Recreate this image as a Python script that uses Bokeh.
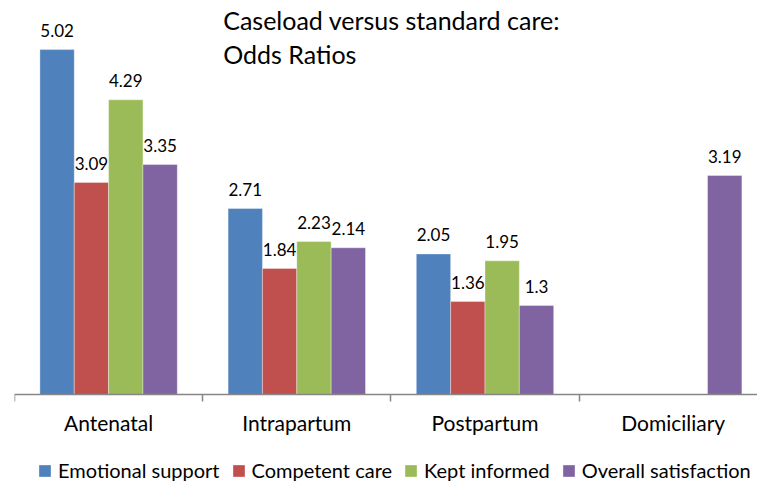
import numpy as np
from bokeh.plotting import figure
from bokeh.models import (ColumnDataSource, Range1d, LinearAxis, FixedTicker,
                          Legend, LegendItem, Label)
from bokeh.transform import dodge
from bokeh.core.properties import value
from bokeh.embed import file_html
from bokeh.resources import INLINE

# ---- data ----
categories = ["Antenatal", "Intrapartum", "Postpartum", "Domiciliary"]
series_names = ["Emotional support", "Competent care", "Kept informed", "Overall satisfaction"]
emotional_support = [5.02, 2.71, 2.05, np.nan]
competent_care = [3.09, 1.84, 1.36, np.nan]
kept_informed = [4.29, 2.23, 1.95, np.nan]
overall_satisfaction = [3.35, 2.14, 1.30, 3.19]
title_lines = ["Caseload versus standard care:", "Odds Ratios"]

series_values = [emotional_support, competent_care, kept_informed, overall_satisfaction]
colors = ["#4F81BD", "#C0504D", "#9BBB59", "#8064A2"]
FONT = "Lato"

centers = [i + 0.5 for i in range(len(categories))]
boundaries = [float(i) for i in range(len(categories) + 1)]
bar_w = 0.1825
offsets = [-1.5 * bar_w, -0.5 * bar_w, 0.5 * bar_w, 1.5 * bar_w]

p = figure(width=757, height=482,
           x_range=Range1d(0, 3.948), y_range=Range1d(-1.272, 5.734),
           x_axis_location=None, y_axis_location=None,
           toolbar_location=None, output_backend="svg",
           min_border_left=14, min_border_right=0,
           min_border_top=0, min_border_bottom=0,
           outline_line_color=None, background_fill_color="white",
           border_fill_color="white")
p.grid.visible = False

items = []
for name, vals, col, off in zip(series_names, series_values, colors, offsets):
    arr = np.array(vals, dtype=float)
    src = ColumnDataSource(dict(
        cx=centers, top=arr,
        label=["" if np.isnan(v) else f"{v:g}" for v in arr]))
    r = p.vbar(x=dodge("cx", off), top="top", bottom=0, width=bar_w, source=src,
               fill_color=col, line_color="white", line_alpha=0.35, line_width=1)
    p.text(x=dodge("cx", off), y="top", text="label", source=src,
           text_align="center", text_baseline="alphabetic", y_offset=-19,
           text_font=value(FONT), text_font_size="17px", text_color="#000000")
    items.append(LegendItem(label=name, renderers=[r]))

ax = LinearAxis(
    fixed_location=0,
    ticker=FixedTicker(ticks=centers, minor_ticks=boundaries),
    major_label_overrides={c: n for c, n in zip(centers, categories)},
    major_tick_out=0, major_tick_in=0,
    minor_tick_out=7, minor_tick_in=0,
    axis_line_color="#868686", axis_line_width=1.5,
    minor_tick_line_color="#868686", minor_tick_line_width=1.5,
    major_label_standoff=8,
    major_label_text_font=FONT, major_label_text_font_size="21px",
    major_label_text_color="#000000")
p.add_layout(ax, "below")

legend = Legend(items=items, orientation="horizontal", location=(23, 0),
                glyph_width=15, glyph_height=15, label_standoff=6, spacing=11,
                padding=0, margin=0, border_line_color=None,
                background_fill_alpha=0,
                label_text_font=FONT, label_text_font_size="20px",
                label_text_color="#000000")
p.add_layout(legend, "center")

ys = [5.45, 4.963]
for t, yv in zip(title_lines, ys):
    p.add_layout(Label(x=1.109, y=yv, text=t, text_font=FONT,
                       text_font_size="25px", text_baseline="alphabetic",
                       text_color="#000000"))

open("out.html", "w").write(file_html(p, INLINE))
